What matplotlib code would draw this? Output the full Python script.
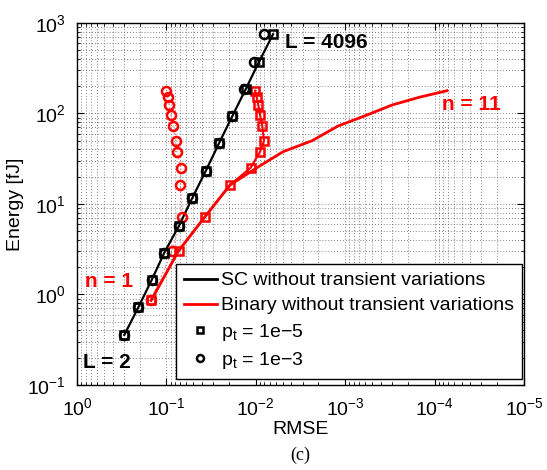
import numpy as np
import matplotlib
matplotlib.use('Agg')
import matplotlib.pyplot as plt
from matplotlib.lines import Line2D

plt.rcParams['font.family'] = ['Liberation Sans', 'DejaVu Sans']
plt.rcParams['mathtext.fontset'] = 'custom'
plt.rcParams['mathtext.rm'] = 'Liberation Sans'
plt.rcParams['mathtext.it'] = 'Liberation Sans:italic'
plt.rcParams['mathtext.bf'] = 'Liberation Sans:bold'

# SC, L = 2 ... 4096
sc_rmse = [0.296, 0.206, 0.146, 0.1055, 0.0723, 0.0517, 0.0363, 0.0258, 0.0183, 0.0130, 0.0092, 0.00642]
sc_energy = [0.357, 0.722, 1.45, 2.90, 5.75, 11.5, 23.2, 46.9, 93.8, 185, 373, 750]
sc_rmse_p3 = [0.296, 0.206, 0.146, 0.1055, 0.0723, 0.0517, 0.0363, 0.0258, 0.0183, 0.01345, 0.01047, 0.0081]

# Binary, n = 1 ... 11
bin_rmse = [0.1486, 0.0732, 0.0370, 0.01945, 0.0097, 0.00496, 0.00235, 0.0012, 0.00057, 0.0003, 0.000149, 0.0000726]
bin_energy = [0.859, 3.03, 7.24, 16.2, 25.2, 37.8, 50.0, 72.8, 96.2, 124, 151, 178.6]
bin_rmse_p5 = [0.1486, 0.0732, 0.0370, 0.01945, 0.0114, 0.00897, 0.0081, 0.00846, 0.00897, 0.00938, 0.00977, 0.01021]
bin_rmse_p3 = [0.1486, 0.0866, 0.0664, 0.0699, 0.0687, 0.0767, 0.0781, 0.0844, 0.0889, 0.0929, 0.0967, 0.1018]

fig = plt.figure(figsize=(5.47, 4.70), dpi=100)
ax = fig.add_axes([0.1408, 0.1809, 0.8172, 0.7702])

ax.plot(bin_rmse_p3, bin_energy, ':', color='#ff8080', lw=1)
ax.plot(bin_rmse_p5, bin_energy, '-', color='red', lw=1.5)
ax.plot(sc_rmse, sc_energy, '-', color='black', lw=1.6)
ax.plot(bin_rmse, bin_energy, '-', color='red', lw=2)

ax.plot(bin_rmse_p5, bin_energy, 's', mfc='none', mec='red', ms=6, mew=1.8)
ax.plot(bin_rmse_p3, bin_energy, 'o', mfc='none', mec='red', ms=6.5, mew=1.8)
ax.plot(sc_rmse, sc_energy, 's', mfc='none', mec='black', ms=6, mew=1.8)
ax.plot(sc_rmse_p3, sc_energy, 'o', mfc='none', mec='black', ms=6.5, mew=1.8)

ax.set_xscale('log')
ax.set_yscale('log')
ax.set_xlim(1, 1e-5)
ax.set_ylim(0.1, 1000)

ax.grid(True, which='both', color='0.35', linestyle=(0, (1, 2.5)), lw=0.6)
ax.tick_params(which='both', direction='in', top=True, right=True, labelsize=14)
ax.tick_params(which='major', length=5)
ax.tick_params(which='minor', length=2.5)
ax.tick_params(axis='x', which='both', pad=9)
ax.tick_params(axis='y', which='both', pad=8)
for s in ax.spines.values():
    s.set_linewidth(1)

ax.set_xlabel('RMSE', fontsize=14, labelpad=1)
ax.set_ylabel('Energy [fJ]', fontsize=14, labelpad=2)

ax.text(0.465, 0.947, 'L = 4096', transform=ax.transAxes, fontsize=15, fontweight='bold', va='center')
ax.text(0.8166, 0.776, 'n = 11', transform=ax.transAxes, fontsize=15, fontweight='bold', color='red', va='center')
ax.text(0.018, 0.286, 'n = 1', transform=ax.transAxes, fontsize=15, fontweight='bold', color='red', va='center')
ax.text(0.0134, 0.062, 'L = 2', transform=ax.transAxes, fontsize=15, fontweight='bold', va='center')

handles = [Line2D([], [], color='black', lw=2),
           Line2D([], [], color='red', lw=2),
           Line2D([], [], ls='none', marker='s', mfc='none', mec='black', ms=5, mew=1.8),
           Line2D([], [], ls='none', marker='o', mfc='none', mec='black', ms=5, mew=1.8)]
labels = ['SC without transient variations', 'Binary without transient variations',
          'p$_\\mathregular{t}$ = 1e\u22125', 'p$_\\mathregular{t}$ = 1e\u22123']
leg = ax.legend(handles, labels, loc='lower left', bbox_to_anchor=(0.2215, 0.0166), borderaxespad=0,
                fontsize=14, fancybox=False, framealpha=1, edgecolor='black', handlelength=1.7,
                handletextpad=0.2, borderpad=0.4, labelspacing=0.38)
leg.get_frame().set_linewidth(1)

fig.text(0.548, 0.032, '(c)', fontsize=13, family='Liberation Serif', ha='center', va='center')

fig.savefig('out.png', dpi=100)
